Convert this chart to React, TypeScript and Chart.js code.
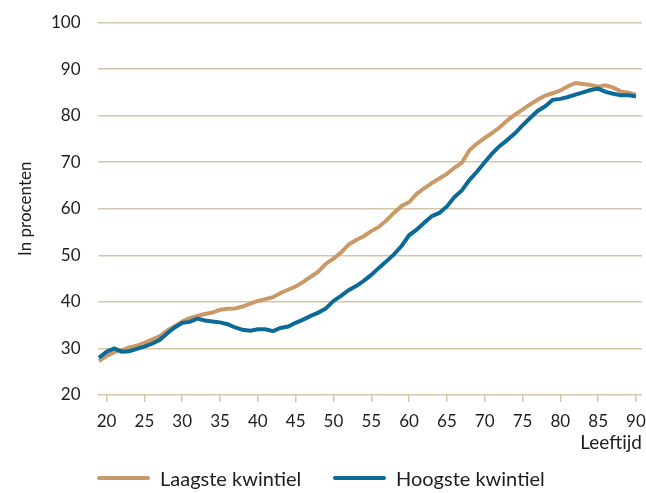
import React, { useEffect, useRef } from "react";
import { Chart, registerables } from "chart.js";

Chart.register(...registerables);

const ages = [
  19, 20, 21, 22, 23, 24, 25, 26, 27, 28, 29, 30, 31, 32, 33, 34, 35, 36, 37, 38,
  39, 40, 41, 42, 43, 44, 45, 46, 47, 48, 49, 50, 51, 52, 53, 54, 55, 56, 57, 58,
  59, 60, 61, 62, 63, 64, 65, 66, 67, 68, 69, 70, 71, 72, 73, 74, 75, 76, 77, 78,
  79, 80, 81, 82, 83, 84, 85, 86, 87, 88, 89, 90,
];

const laagste = [
  27.3, 28.4, 29.2, 29.6, 30.2, 30.6, 31.2, 31.9, 32.6, 33.8, 34.8, 35.8, 36.5, 37.0, 37.4, 37.7, 38.3, 38.5, 38.6, 39.0,
  39.6, 40.2, 40.6, 41.0, 41.9, 42.6, 43.3, 44.3, 45.4, 46.5, 48.2, 49.3, 50.6, 52.3, 53.3, 54.1, 55.2, 56.1, 57.5, 59.1,
  60.6, 61.4, 63.2, 64.4, 65.5, 66.5, 67.5, 68.8, 69.9, 72.6, 74.0, 75.2, 76.3, 77.5, 79.0, 80.2, 81.3, 82.4, 83.4, 84.3,
  84.8, 85.4, 86.3, 87.0, 86.8, 86.6, 86.2, 86.5, 86.0, 85.2, 84.9, 84.5,
];

const hoogste = [
  28.0, 29.3, 30.0, 29.3, 29.4, 29.9, 30.4, 31.0, 31.8, 33.2, 34.5, 35.5, 35.7, 36.4, 36.0, 35.8, 35.6, 35.2, 34.5, 34.0,
  33.8, 34.1, 34.1, 33.7, 34.4, 34.7, 35.5, 36.2, 37.0, 37.7, 38.6, 40.2, 41.3, 42.5, 43.4, 44.5, 45.8, 47.3, 48.7, 50.2,
  52.0, 54.3, 55.5, 57.0, 58.4, 59.1, 60.5, 62.5, 64.0, 66.2, 68.0, 70.0, 71.9, 73.5, 74.8, 76.2, 77.9, 79.5, 81.0, 82.0,
  83.4, 83.6, 84.0, 84.5, 85.0, 85.5, 85.8, 85.1, 84.7, 84.4, 84.4, 84.1,
];

const xTicks = [20, 25, 30, 35, 40, 45, 50, 55, 60, 65, 70, 75, 80, 85, 90];
const seriesNames = ["Laagste kwintiel", "Hoogste kwintiel"];
const ORANGE = "#c99a68";
const BLUE = "#0b6a98";
const GRID = "#d4c6ab";
const TEXT = "#1e1e1e";
const FONT = "Lato";

export default function App() {
  const ref = useRef<HTMLCanvasElement | null>(null);

  useEffect(() => {
    document.body.style.margin = "0";
    const canvas = ref.current;
    if (!canvas) return;
    const chart = new Chart(canvas, {
      type: "line",
      data: {
        datasets: [
          {
            label: seriesNames[0],
            data: ages.map((a, i) => ({ x: a, y: laagste[i] })),
            borderColor: ORANGE,
            backgroundColor: ORANGE,
            borderWidth: 4,
            pointRadius: 0,
            tension: 0,
            order: 1,
          },
          {
            label: seriesNames[1],
            data: ages.map((a, i) => ({ x: a, y: hoogste[i] })),
            borderColor: BLUE,
            backgroundColor: BLUE,
            borderWidth: 4,
            pointRadius: 0,
            tension: 0,
            order: 0,
          },
        ],
      },
      options: {
        animation: false,
        responsive: false,
        maintainAspectRatio: false,
        layout: { padding: { top: 22.5, right: 4, left: 0, bottom: 0 } },
        plugins: {
          legend: { display: false },
          tooltip: { enabled: false },
        },
        scales: {
          x: {
            type: "linear",
            min: 18.8,
            max: 90.8,
            afterBuildTicks: (scale: any) => {
              scale.ticks = xTicks.map((v) => ({ value: v }));
            },
            afterFit: (scale: any) => {
              scale.height = 98;
              scale.paddingLeft = 0;
              scale.paddingRight = 0;
            },
            border: { display: false },
            grid: {
              drawOnChartArea: false,
              drawTicks: true,
              tickLength: 7,
              color: GRID,
              lineWidth: 1.5,
            },
            ticks: {
              autoSkip: false,
              maxRotation: 0,
              padding: 9,
              color: TEXT,
              font: { family: FONT, size: 17 },
            },
            title: {
              display: true,
              text: "Leeftijd",
              align: "end",
              color: TEXT,
              font: { family: FONT, size: 19 },
              padding: { top: 0, bottom: 39 },
            },
          },
          y: {
            min: 20,
            max: 100,
            afterFit: (scale: any) => {
              scale.width = 97.5;
              scale.paddingTop = 0;
              scale.paddingBottom = 0;
            },
            border: { display: false },
            grid: {
              color: GRID,
              lineWidth: 1.5,
              drawTicks: false,
            },
            ticks: {
              stepSize: 10,
              padding: 17,
              color: TEXT,
              font: { family: FONT, size: 17 },
            },
            title: {
              display: true,
              text: "In procenten",
              color: TEXT,
              font: { family: FONT, size: 17 },
              padding: { top: 15, bottom: 0 },
            },
          },
        },
      },
    });
    return () => chart.destroy();
  }, []);

  const legendItem = (label: string, color: string, left: number) => (
    <div
      style={{
        position: "absolute",
        left,
        top: 465,
        display: "flex",
        alignItems: "center",
        height: 26,
      }}
    >
      <div style={{ width: 53, height: 4, background: color, borderRadius: 2, marginRight: 10 }} />
      <span style={{ fontFamily: FONT, fontSize: 20, color: TEXT, whiteSpace: "nowrap" }}>{label}</span>
    </div>
  );

  return (
    <div style={{ position: "relative", width: 646, height: 493, background: "#fff" }}>
      <canvas ref={ref} width={646} height={493} style={{ display: "block" }} />
      {legendItem(seriesNames[0], ORANGE, 97)}
      {legendItem(seriesNames[1], BLUE, 333)}
    </div>
  );
}
